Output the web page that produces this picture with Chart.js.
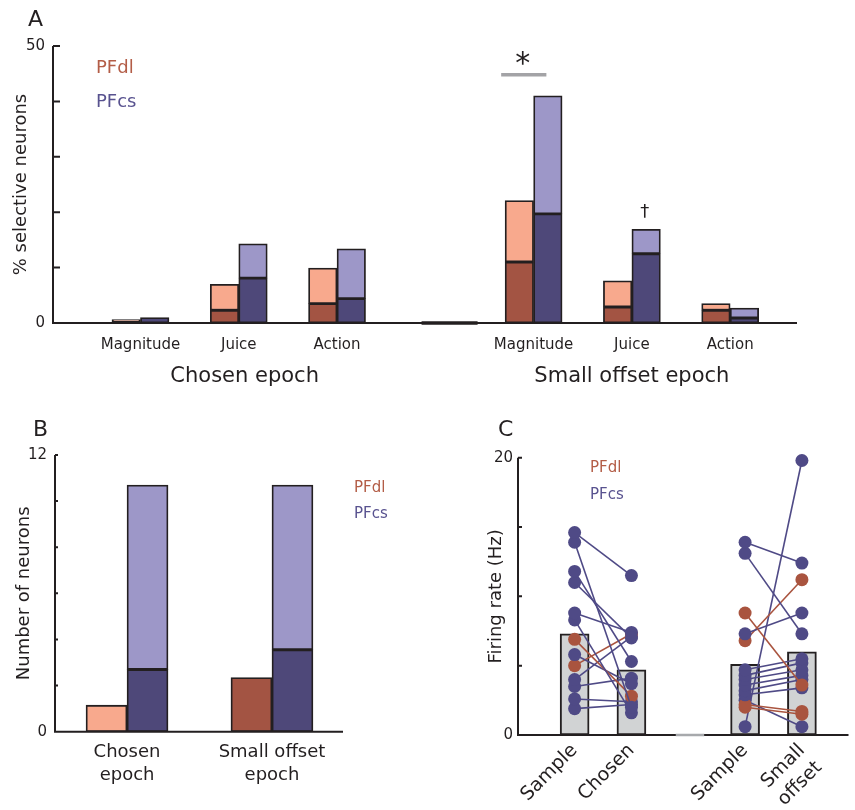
<!DOCTYPE html>
<html>
<head>
<meta charset="utf-8">
<script src="https://cdn.jsdelivr.net/npm/chart.js@4.4.1/dist/chart.umd.min.js"></script>
<style>
  body { margin: 0; background: #fff; width: 855px; height: 810px; position: relative; overflow: hidden; }
  .panel { position: absolute; }
</style>
</head>
<body>
<div class="panel" style="left:0;top:0;width:855px;height:400px"><canvas id="chartA"></canvas></div>
<div class="panel" style="left:0;top:405px;width:420px;height:405px"><canvas id="chartB"></canvas></div>
<div class="panel" style="left:425px;top:405px;width:430px;height:405px"><canvas id="chartC"></canvas></div>
<script>
// ---- panel A: % selective neurons ----
const catPos = [1, 2, 3, 5, 6, 7];
const catLabels = ['Magnitude', 'Juice', 'Action', 'Magnitude', 'Juice', 'Action'];
const pfdlDark = [0.2, 2.3, 3.5, 11.0, 2.9, 2.3];
const pfdlTotal = [0.6, 7.0, 9.9, 22.1, 7.6, 3.5];
const pfcsDark = [1.0, 8.1, 4.4, 19.7, 12.5, 0.9];
const pfcsTotal = [1.0, 14.3, 13.4, 41.0, 16.9, 2.7];

// ---- panel B: number of neurons ----
const epochPos = [1, 2];
const epochLabels = [['Chosen', 'epoch'], ['Small offset', 'epoch']];
const countDlLight = [1.15, null];
const countDlDark = [null, 2.35];
const countCsDark = [2.7, 3.55];
const countCsTotal = [10.7, 10.7];

// ---- panel C: firing rate ----
const condPos = [1, 2, 4, 5];
const condLabels = [['Sample'], ['Chosen'], ['Sample'], ['Small', 'offset']];
const meanRate = [7.3, 4.7, 5.1, 6.0];
const sampleChosen = [14.6, 13.9, 11.8, 11.0, 8.8, 8.3, 6.9, 5.8, 5.0, 4.0, 3.5, 2.6, 1.9];
const chosenRate = [11.5, 2.0, 5.3, 7.0, 7.4, 1.6, 2.8, 3.7, 7.3, 7.1, 4.1, 2.4, 2.2];
const chosenArea = ['cs', 'cs', 'cs', 'cs', 'cs', 'cs', 'dl', 'cs', 'dl', 'cs', 'cs', 'cs', 'cs'];
const sampleOffset = [13.9, 13.1, 8.8, 7.3, 6.8, 4.7, 4.3, 4.0, 3.6, 3.2, 2.9, 2.2, 2.0, 2.5, 0.6];
const offsetRate = [12.4, 7.3, 3.6, 8.8, 11.2, 5.5, 5.2, 4.7, 4.3, 4.0, 3.4, 1.7, 1.5, 0.6, 19.8];
const offsetArea = ['cs', 'cs', 'dl', 'cs', 'dl', 'cs', 'cs', 'cs', 'cs', 'cs', 'cs', 'dl', 'dl', 'cs', 'cs'];

const ink = '#231f20';
const fam = '"DejaVu Sans", Verdana, sans-serif';
const dlDark = '#a35443', dlLight = '#f8a98d', csDark = '#4e4879', csLight = '#9d97c8';
const dlText = '#b35d47', csText = '#58528f';
const dotCol = { dl: '#a9543f', cs: '#4f4a86' };

function xy(xs, ys) {
  return xs.map((x, i) => ({ x: x, y: ys[i] }));
}
function rest(total, dark) {
  return total.map((t, i) => (t - (dark[i] || 0) > 0 ? t - (dark[i] || 0) : null));
}

function yScale(max, step, width, title, titlePad, labelPad) {
  return {
    min: 0, max: max, stacked: true,
    grid: { display: false, drawTicks: false },
    border: { display: false },
    ticks: {
      stepSize: step, padding: labelPad, color: ink,
      font: { family: fam, size: 15 },
      callback: v => (v === 0 || v === max) ? String(v) : ''
    },
    title: {
      display: true, text: title, color: ink,
      font: { family: fam, size: 18 },
      padding: { top: titlePad, bottom: 0 }
    },
    afterFit: s => { s.width = width; }
  };
}

function xScale(min, max, pos, labels, height, size, pad, rot) {
  return {
    type: 'linear', min: min, max: max, offset: false,
    grid: { display: false, drawTicks: false, offset: false },
    border: { display: false },
    afterBuildTicks: s => { s.ticks = pos.map(v => ({ value: v })); },
    ticks: {
      autoSkip: false, padding: pad, color: ink,
      minRotation: rot, maxRotation: rot,
      font: { family: fam, size: size, lineHeight: 1.28 },
      callback: v => labels[pos.indexOf(v)]
    },
    afterFit: s => { s.height = height; }
  };
}

// axes with inward ticks, plus extra bits drawn by each panel
function axesPlugin(tickLen, extra) {
  return {
    id: 'axes',
    afterDatasetsDraw(chart) {
      const { ctx, chartArea, scales } = chart;
      const x = scales.x, y = scales.y;
      const y0 = y.getPixelForValue(0);
      ctx.save();
      ctx.strokeStyle = ink;
      ctx.lineWidth = 2;
      ctx.beginPath();
      ctx.moveTo(chartArea.left, y.getPixelForValue(y.max));
      ctx.lineTo(chartArea.left, y0);
      ctx.moveTo(chartArea.left - 1, y0);
      ctx.lineTo(chartArea.right, y0);
      y.ticks.forEach(t => {
        const py = y.getPixelForValue(t.value);
        ctx.moveTo(chartArea.left, py);
        ctx.lineTo(chartArea.left + tickLen, py);
      });
      ctx.stroke();
      if (extra) extra(ctx, x, y);
      ctx.restore();
    }
  };
}

function txt(ctx, s, px, py, size, color, align) {
  ctx.font = size + 'px ' + fam;
  ctx.fillStyle = color;
  ctx.textAlign = align || 'left';
  ctx.textBaseline = 'middle';
  ctx.fillText(s, px, py);
}

const base = {
  responsive: true,
  maintainAspectRatio: false,
  animation: false,
  plugins: { legend: { display: false }, tooltip: { enabled: false } }
};

// ---------- A ----------
function segA(data, color, stack) {
  return {
    data: xy(catPos, data), backgroundColor: color, borderColor: ink,
    borderWidth: 1.8, borderSkipped: false, stack: stack, barThickness: 28.5
  };
}
new Chart(document.getElementById('chartA'), {
  type: 'bar',
  data: {
    datasets: [
      segA(pfdlDark, dlDark, 'dl'),
      segA(rest(pfdlTotal, pfdlDark), dlLight, 'dl'),
      segA(pfcsDark, csDark, 'cs'),
      segA(rest(pfcsTotal, pfcsDark), csLight, 'cs')
    ]
  },
  options: Object.assign({}, base, {
    layout: { padding: { top: 46, right: 58, left: 0, bottom: 0 } },
    scales: {
      x: xScale(0.11, 7.68, catPos, catLabels, 77, 15, 13, 0),
      y: yScale(50, 10, 53, '% selective neurons', 11, 8)
    }
  }),
  plugins: [axesPlugin(7, (ctx, x, y) => {
    // break mark on the baseline between the two epochs
    ctx.lineWidth = 3.5;
    ctx.beginPath();
    ctx.moveTo(x.getPixelForValue(3.86), y.getPixelForValue(0));
    ctx.lineTo(x.getPixelForValue(4.43), y.getPixelForValue(0));
    ctx.stroke();
    // significance
    ctx.strokeStyle = '#a3a3a6';
    ctx.lineWidth = 3.5;
    ctx.beginPath();
    ctx.moveTo(x.getPixelForValue(4.67), y.getPixelForValue(44.8));
    ctx.lineTo(x.getPixelForValue(5.13), y.getPixelForValue(44.8));
    ctx.stroke();
    txt(ctx, '*', x.getPixelForValue(4.89), y.getPixelForValue(46.6), 30, ink, 'center');
    txt(ctx, '\u2020', x.getPixelForValue(6.13), y.getPixelForValue(20.0), 18, ink, 'center');
    txt(ctx, 'A', 28, 20, 22, ink);
    txt(ctx, 'PFdl', 96, 68, 18, dlText);
    txt(ctx, 'PFcs', 96, 102, 18, csText);
    txt(ctx, 'Chosen epoch', x.getPixelForValue(2.06), 377, 21, ink, 'center');
    txt(ctx, 'Small offset epoch', x.getPixelForValue(6.0), 377, 21, ink, 'center');
  })]
});

// ---------- B ----------
function segB(data, color, stack) {
  return {
    data: xy(epochPos, data), backgroundColor: color, borderColor: ink,
    borderWidth: 1.8, borderSkipped: false, stack: stack, barThickness: 41
  };
}
new Chart(document.getElementById('chartB'), {
  type: 'bar',
  data: {
    datasets: [
      segB(countDlDark, dlDark, 'dl'),
      segB(countDlLight, dlLight, 'dl'),
      segB(countCsDark, csDark, 'cs'),
      segB(rest(countCsTotal, countCsDark), csLight, 'cs')
    ]
  },
  options: Object.assign({}, base, {
    layout: { padding: { top: 50, right: 77, left: 0, bottom: 0 } },
    scales: {
      x: xScale(0.503, 2.49, epochPos, epochLabels, 78.3, 18, 9, 0),
      y: yScale(12, 2, 55, 'Number of neurons', 14, 8)
    }
  }),
  plugins: [axesPlugin(3, (ctx) => {
    txt(ctx, 'B', 33, 25, 22, ink);
    txt(ctx, 'PFdl', 354, 83, 15, dlText);
    txt(ctx, 'PFcs', 354, 109, 15, csText);
  })]
});

// ---------- C ----------
const pairSets = [];
sampleChosen.forEach((v, i) => {
  const c = dotCol[chosenArea[i]];
  pairSets.push({ type: 'line', data: [{ x: 1, y: v }, { x: 2, y: chosenRate[i] }],
    borderColor: c, backgroundColor: c, borderWidth: 1.6, pointRadius: 6.5,
    pointBorderWidth: 0, clip: false, order: 0 });
});
sampleOffset.forEach((v, i) => {
  const c = dotCol[offsetArea[i]];
  pairSets.push({ type: 'line', data: [{ x: 4, y: v }, { x: 5, y: offsetRate[i] }],
    borderColor: c, backgroundColor: c, borderWidth: 1.6, pointRadius: 6.5,
    pointBorderWidth: 0, clip: false, order: 0 });
});
const yC = yScale(20, 5, 93, 'Firing rate (Hz)', 61, 5);
yC.stacked = false;
new Chart(document.getElementById('chartC'), {
  type: 'bar',
  data: {
    datasets: [{
      data: xy(condPos, meanRate), backgroundColor: '#d1d3d4', borderColor: ink,
      borderWidth: 2, borderSkipped: false, barThickness: 29, order: 1
    }].concat(pairSets)
  },
  options: Object.assign({}, base, {
    layout: { padding: { top: 52.7, right: 0, left: 0, bottom: 0 } },
    scales: {
      x: xScale(0.0035, 5.82, condPos, condLabels, 75, 19, 4, 45),
      y: yC
    }
  }),
  plugins: [axesPlugin(4, (ctx, x, y) => {
    ctx.strokeStyle = '#a7a9ac';
    ctx.lineWidth = 2.5;
    ctx.beginPath();
    ctx.moveTo(x.getPixelForValue(2.78), y.getPixelForValue(0));
    ctx.lineTo(x.getPixelForValue(3.28), y.getPixelForValue(0));
    ctx.stroke();
    txt(ctx, 'C', 73, 25, 22, ink);
    txt(ctx, 'PFdl', 165, 63, 15, dlText);
    txt(ctx, 'PFcs', 165, 90, 15, csText);
  })]
});
</script>
</body>
</html>
